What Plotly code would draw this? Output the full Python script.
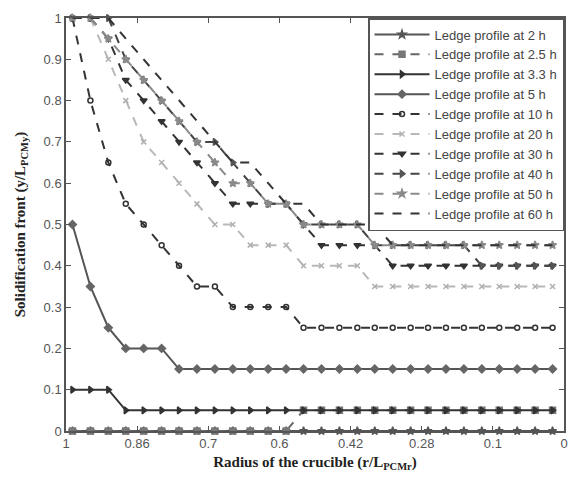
import plotly.graph_objects as go
import numpy as np

radius = [0.987, 0.951, 0.915, 0.880, 0.844, 0.808, 0.773, 0.737, 0.701, 0.665,
          0.630, 0.594, 0.558, 0.523, 0.487, 0.451, 0.415, 0.380, 0.344, 0.308,
          0.273, 0.237, 0.201, 0.165, 0.130, 0.094, 0.058, 0.023]

x_tick_labels = ["1", "0.86", "0.7", "0.6", "0.42", "0.28", "0.1", "0"]
y_tick_values = [0, 0.1, 0.2, 0.3, 0.4, 0.5, 0.6, 0.7, 0.8, 0.9, 1]

h2 = [0] * 28
h2_5 = [0] * 13 + [0.05] * 15
h3_3 = [0.1, 0.1, 0.1] + [0.05] * 25
h5 = [0.5, 0.35, 0.25, 0.2, 0.2, 0.2] + [0.15] * 22
h10 = [1, 0.8, 0.65, 0.55, 0.5, 0.45, 0.4, 0.35, 0.35, 0.3, 0.3, 0.3, 0.3] + [0.25] * 15
h20 = [1, 1, 0.9, 0.8, 0.7, 0.65, 0.6, 0.55, 0.5, 0.5, 0.45, 0.45, 0.45,
       0.4, 0.4, 0.4, 0.4] + [0.35] * 11
h30 = [1, 1, 0.95, 0.85, 0.8, 0.75, 0.7, 0.65, 0.6, 0.55, 0.55, 0.55, 0.55,
       0.5, 0.45, 0.45, 0.45, 0.45] + [0.4] * 10
h40 = [1, 1, 1, 0.9, 0.85, 0.8, 0.75, 0.7, 0.7, 0.65, 0.6, 0.55, 0.55,
       0.5, 0.5, 0.5, 0.5, 0.45, 0.45, 0.45, 0.45, 0.45, 0.45] + [0.4] * 5
h50 = [1, 1, 0.95, 0.9, 0.85, 0.8, 0.75, 0.7, 0.65, 0.6, 0.6, 0.55, 0.55,
       0.5, 0.5, 0.5, 0.5] + [0.45] * 11
h60 = [1, 1, 1, 0.95, 0.9, 0.85, 0.8, 0.75, 0.7, 0.65, 0.65, 0.6, 0.55,
       0.55, 0.5, 0.5, 0.5, 0.5] + [0.45] * 10

series = [
    ("Ledge profile at 2 h", h2, "solid", "#555555", "star", 6, "#555555"),
    ("Ledge profile at 2.5 h", h2_5, "dash", "#666666", "square", 6, "#777777"),
    ("Ledge profile at 3.3 h", h3_3, "solid", "#333333", "triangle-right", 6, "#333333"),
    ("Ledge profile at 5 h", h5, "solid", "#555555", "diamond", 6, "#666666"),
    ("Ledge profile at 10 h", h10, "dash", "#333333", "circle-open", 5, "#333333"),
    ("Ledge profile at 20 h", h20, "dash", "#b8b8b8", "x-thin", 5, "#b0b0b0"),
    ("Ledge profile at 30 h", h30, "dash", "#333333", "triangle-down", 6, "#333333"),
    ("Ledge profile at 40 h", h40, "dash", "#444444", "triangle-right", 6, "#555555"),
    ("Ledge profile at 50 h", h50, "dash", "#8a8a8a", "star", 6, "#8a8a8a"),
    ("Ledge profile at 60 h", h60, "dash", "#333333", None, 0, "#333333"),
]

fig = go.Figure()
for name, ys, dash, lc, sym, ms, mc in series:
    if sym is None:
        fig.add_trace(go.Scatter(x=radius, y=ys, name=name, mode="lines", cliponaxis=False,
                                 line=dict(color=lc, width=2, dash=dash)))
    else:
        fig.add_trace(go.Scatter(x=radius, y=ys, name=name, mode="lines+markers",
                                 cliponaxis=False,
                                 line=dict(color=lc, width=2, dash=dash),
                                 marker=dict(symbol=sym, size=ms, color=mc,
                                             line=dict(color=mc, width=1.5))))

axis_common = dict(showline=True, linecolor="#555555", linewidth=1.5, mirror="ticks",
                   ticks="inside", ticklen=5, tickcolor="#555555", showgrid=False,
                   zeroline=False, automargin=False,
                   tickfont=dict(family="Liberation Sans", size=13, color="#555555"))

fig.update_layout(
    width=568, height=478,
    margin=dict(l=66, r=4, t=18, b=47),
    paper_bgcolor="white", plot_bgcolor="white",
    xaxis=dict(range=[1, 0], tickvals=list(np.linspace(1, 0, len(x_tick_labels))),
               ticktext=x_tick_labels,
               title=dict(text="<b>Radius of the crucible (r/L<sub>PCMr</sub>)</b>", standoff=6,
                          font=dict(family="Liberation Serif", size=15, color="#222222")),
               **axis_common),
    yaxis=dict(range=[0, 1], tickvals=y_tick_values,
               ticktext=[f"{v:g}" for v in y_tick_values],
               title=dict(text="<b>Solidification front (y/L<sub>PCMy</sub>)</b>", standoff=14,
                          font=dict(family="Liberation Serif", size=15, color="#222222")),
               **axis_common),
    legend=dict(x=1, y=1, xanchor="right", yanchor="top", bgcolor="white",
                bordercolor="#555555", borderwidth=1.5,
                font=dict(family="Liberation Sans", size=13, color="#444444"),
                tracegroupgap=0, itemwidth=55),
    showlegend=True,
)

fig.write_html("out.html", config={"displayModeBar": False},
               post_script="document.body.style.margin='0';document.body.style.overflow='hidden';")
